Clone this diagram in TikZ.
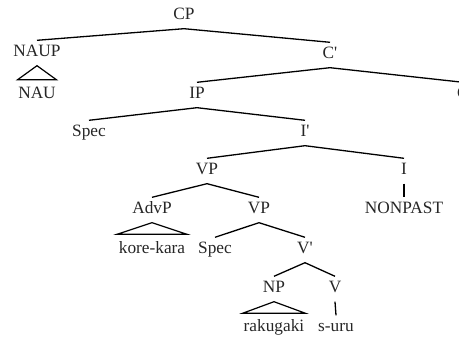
\documentclass[tikz,border=0pt]{standalone}
\usepackage{fontspec}
\setmainfont{Liberation Serif}
\begin{document}
\begin{tikzpicture}[x=1pt,y=-1pt,
  lab/.style={inner xsep=0pt, inner ysep=5pt, text height=11.5pt, text depth=3.5pt,
    font=\fontsize{17.3}{20}\selectfont, text=black!85},
  br/.style={line width=1.3pt, black},
  tri/.style={line width=1.2pt, black, line join=miter}]
\useasboundingbox (0,0) rectangle (459,339);
\clip (0,0) rectangle (459,339);
\node[lab] (CP) at (184,16) {CP};
\node[lab] (NAUP) at (37,53) {NAUP};
\node[lab] (NAU) at (37,95) {NAU};
\node[lab] (Cbar) at (330,55) {C\textquotesingle};
\node[lab] (IP) at (197,95) {IP};
\node[lab] (C) at (463,95) {C};
\node[lab] (Spec1) at (89,133) {Spec};
\node[lab] (Ibar) at (305,133) {I\textquotesingle};
\node[lab] (VP) at (207,171) {VP};
\node[lab] (I) at (404,171) {I};
\node[lab] (NONPAST) at (404,210) {NONPAST};
\node[lab] (AdvP) at (152,210) {AdvP};
\node[lab] (VP2) at (259,210) {VP};
\node[lab] (korekara) at (152,250) {kore-kara};
\node[lab] (Spec2) at (215,250) {Spec};
\node[lab] (Vbar) at (305,250) {V\textquotesingle};
\node[lab] (NP) at (274,289) {NP};
\node[lab] (V) at (335,289) {V};
\node[lab] (rakugaki) at (274,328) {rakugaki};
\node[lab] (suru) at (336,328) {s-uru};
\draw[br] (NAUP.north) -- (CP.south) -- (Cbar.north);
\draw[br] (IP.north) -- (Cbar.south) -- (C.north);
\draw[br] (Spec1.north) -- (IP.south) -- (Ibar.north);
\draw[br] (VP.north) -- (Ibar.south) -- (I.north);
\draw[br] (I.south) -- (NONPAST.north);
\draw[br] (AdvP.north) -- (VP.south) -- (VP2.north);
\draw[br] (Spec2.north) -- (VP2.south) -- (Vbar.north);
\draw[br] (NP.north) -- (Vbar.south) -- (V.north);
\draw[br] (V.south) -- (suru.north);
\draw[tri] (NAUP.south) -- ([xshift=-19.5pt,yshift=2.5pt]NAU.north) -- ([xshift=19.5pt,yshift=2.5pt]NAU.north) -- cycle;
\draw[tri] (AdvP.south) -- ([xshift=-35pt,yshift=3pt]korekara.north) -- ([xshift=35pt,yshift=3pt]korekara.north) -- cycle;
\draw[tri] (NP.south) -- ([xshift=-31.5pt,yshift=2pt]rakugaki.north) -- ([xshift=31.5pt,yshift=2pt]rakugaki.north) -- cycle;
\end{tikzpicture}
\end{document}
